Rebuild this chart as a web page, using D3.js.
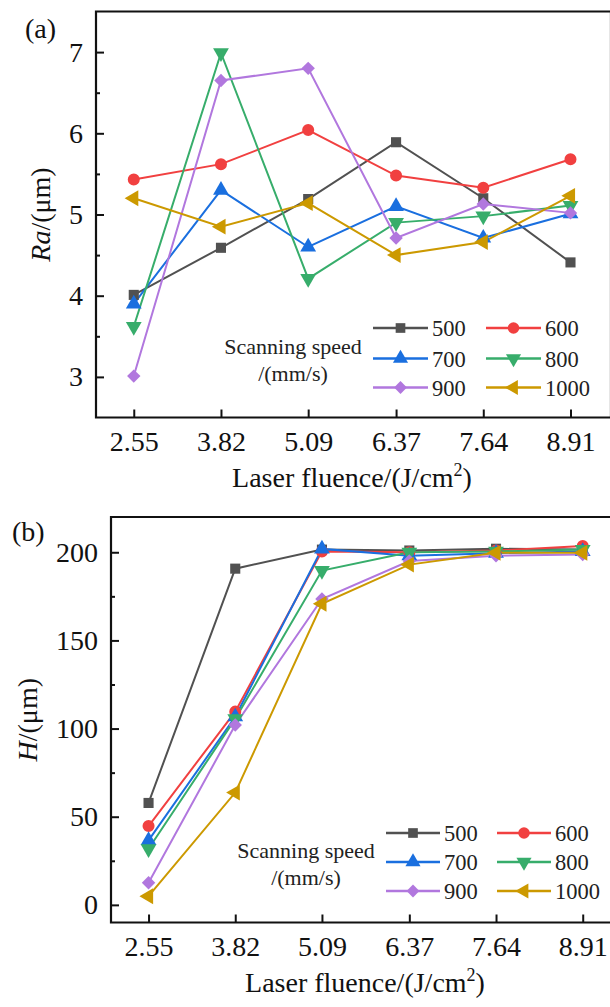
<!DOCTYPE html>
<html>
<head>
<meta charset="utf-8">
<script src="https://cdn.jsdelivr.net/npm/d3@7"></script>
<style>
  body { margin: 0; background: #fff; }
</style>
</head>
<body>
<div id="chart"></div>
<script>
// x values (laser fluence, J/cm2)
var fluence = [2.55, 3.82, 5.09, 6.37, 7.64, 8.91];
var speeds = ["500", "600", "700", "800", "900", "1000"];
var colors = ["#515151", "#F14040", "#1A6FDF", "#37AD6B", "#B177DE", "#CC9900"];
var shapes = ["square", "circle", "up", "down", "diamond", "left"];

// (a) surface roughness Ra, um
var ra500  = [4.01, 4.59, 5.19, 5.89, 5.20, 4.41];
var ra600  = [5.43, 5.62, 6.04, 5.48, 5.33, 5.68];
var ra700  = [3.90, 5.30, 4.60, 5.10, 4.71, 5.01];
var ra800  = [3.62, 6.99, 4.21, 4.90, 4.98, 5.11];
var ra900  = [3.01, 6.65, 6.80, 4.71, 5.13, 5.02];
var ra1000 = [5.20, 4.85, 5.14, 4.50, 4.66, 5.23];

// (b) depth H, um
var h500  = [57.8, 190.7, 201.5, 201.0, 202.0, 201.5];
var h600  = [44.7, 109.6, 200.5, 200.0, 201.0, 203.5];
var h700  = [36.6, 106.7, 201.9, 198.0, 199.5, 200.5];
var h800  = [31.8, 105.5, 189.6, 200.0, 200.5, 201.5];
var h900  = [12.5, 102.0, 173.5, 195.0, 198.0, 198.7];
var h1000 = [4.9, 63.7, 170.8, 193.0, 199.7, 199.7];

var FONT = "'Liberation Serif', 'Times New Roman', Times, serif";
var W = 610, H = 1007;
var svg = d3.select("#chart").append("svg").attr("width", W).attr("height", H)
  .attr("font-family", FONT).style("font-family", FONT);

function symbolPath(shape, size) {
  var s = size;
  if (shape == "square") return d3.symbol(d3.symbolSquare, s * 0.85)();
  if (shape == "circle") return d3.symbol(d3.symbolCircle, s * 0.95)();
  if (shape == "diamond") return d3.symbol(d3.symbolSquare, s * 0.75)();
  return d3.symbol(d3.symbolTriangle, s * 0.9)();
}
function symbolRot(shape) {
  if (shape == "down") return 180;
  if (shape == "left") return -90;
  if (shape == "diamond") return 45;
  return 0;
}

function drawPanel(p) {
  var x = d3.scaleLinear().domain([2, 9.5]).range([p.left, p.right]);
  var y = d3.scaleLinear().domain(p.yDomain).range([p.bottom, p.top]);
  var g = svg.append("g");

  // frame
  g.append("path")
    .attr("d", "M" + p.left + "," + p.top + "H" + p.right + "V" + p.bottom + "H" + p.left + "Z")
    .attr("fill", "none").attr("stroke", "#111").attr("stroke-width", 2.2);

  // y axis major + minor
  var ya = g.append("g").attr("transform", "translate(" + p.left + ",0)")
    .call(d3.axisLeft(y).tickValues(p.yTicks).tickSizeInner(-8).tickSizeOuter(0).tickPadding(13)
      .tickFormat(d3.format("d")));
  var ym = g.append("g").attr("transform", "translate(" + p.left + ",0)")
    .call(d3.axisLeft(y).tickValues(p.yMinor).tickSizeInner(-4).tickSizeOuter(0).tickFormat(""));
  // x axis
  var xa = g.append("g").attr("transform", "translate(0," + p.bottom + ")")
    .call(d3.axisBottom(x).tickValues(fluence).tickSizeInner(-8).tickSizeOuter(0).tickPadding(14)
      .tickFormat(d3.format(".2f")));
  [ya, ym, xa].forEach(function (a) {
    a.attr("font-family", FONT);
    a.select(".domain").remove();
    a.selectAll("line").attr("stroke", "#111").attr("stroke-width", 2);
    a.selectAll("text").attr("font-size", 28).attr("fill", "#111");
  });

  // series
  var line = d3.line().x(function (d, i) { return x(fluence[i]); }).y(function (d) { return y(d); });
  p.series.forEach(function (vals, k) {
    g.append("path").datum(vals).attr("d", line)
      .attr("fill", "none").attr("stroke", colors[k]).attr("stroke-width", 2);
  });
  p.series.forEach(function (vals, k) {
    g.selectAll(".m" + k).data(vals).enter().append("path")
      .attr("d", symbolPath(shapes[k], 120))
      .attr("transform", function (d, i) {
        return "translate(" + x(fluence[i]) + "," + y(d) + ") rotate(" + symbolRot(shapes[k]) + ")";
      })
      .attr("fill", colors[k]);
  });

  // panel label
  g.append("text").attr("x", p.tagX).attr("y", p.tagY).attr("font-size", 28).attr("fill", "#111").text(p.tag);

  // y title
  var yt = g.append("text").attr("transform", "translate(" + p.yTitleX + "," + ((p.top + p.bottom) / 2) + ") rotate(-90)")
    .attr("text-anchor", "middle").attr("font-size", 28).attr("fill", "#111");
  yt.append("tspan").attr("font-style", "italic").text(p.yVar);
  yt.append("tspan").text("/(\u03bcm)");

  // x title
  var xt = g.append("text").attr("x", p.xTitleX).attr("y", p.xTitleY)
    .attr("text-anchor", "middle").attr("font-size", 28).attr("fill", "#111");
  xt.append("tspan").text("Laser fluence/(J/cm");
  xt.append("tspan").attr("font-size", 18).attr("dy", -11).text("2");
  xt.append("tspan").attr("dy", 11).text(")");

  // legend
  var L = p.legend;
  g.append("text").attr("x", L.titleX).attr("y", L.titleY).attr("text-anchor", "middle")
    .attr("font-size", 22).attr("fill", "#222").text("Scanning speed");
  g.append("text").attr("x", L.titleX).attr("y", L.titleY + 27).attr("text-anchor", "middle")
    .attr("font-size", 22).attr("fill", "#222").text("/(mm/s)");
  speeds.forEach(function (s, k) {
    var col = k % 2, row = Math.floor(k / 2);
    var x0 = L.cols[col], yy = L.rows[row];
    g.append("line").attr("x1", x0).attr("x2", x0 + L.lineLen).attr("y1", yy).attr("y2", yy)
      .attr("stroke", colors[k]).attr("stroke-width", 2.5);
    g.append("path").attr("d", symbolPath(shapes[k], 110))
      .attr("transform", "translate(" + (x0 + L.lineLen / 2) + "," + yy + ") rotate(" + symbolRot(shapes[k]) + ")")
      .attr("fill", colors[k]);
    g.append("text").attr("x", x0 + L.lineLen + 4).attr("y", yy + 8).attr("font-size", 22.5)
      .attr("fill", "#222").text(s);
  });
}

drawPanel({
  left: 96, right: 611, top: 11.5, bottom: 417.5,
  yDomain: [2.5, 7.5], yTicks: [3, 4, 5, 6, 7], yMinor: [3.5, 4.5, 5.5, 6.5],
  series: [ra500, ra600, ra700, ra800, ra900, ra1000],
  tag: "(a)", tagX: 25, tagY: 38,
  yVar: "Ra", yTitleX: 50, xTitleX: 352, xTitleY: 487,
  legend: { titleX: 293, titleY: 354, cols: [373, 486], rows: [328, 358.5, 387.5], lineLen: 55 }
});

drawPanel({
  left: 111, right: 623, top: 517, bottom: 922.5,
  yDomain: [-10, 220], yTicks: [0, 50, 100, 150, 200], yMinor: [25, 75, 125, 175],
  series: [h500, h600, h700, h800, h900, h1000],
  tag: "(b)", tagX: 12, tagY: 541,
  yVar: "H", yTitleX: 37, xTitleX: 365, xTitleY: 992,
  legend: { titleX: 306, titleY: 858, cols: [386, 497], rows: [833, 862, 891], lineLen: 54 }
});
</script>
</body>
</html>
